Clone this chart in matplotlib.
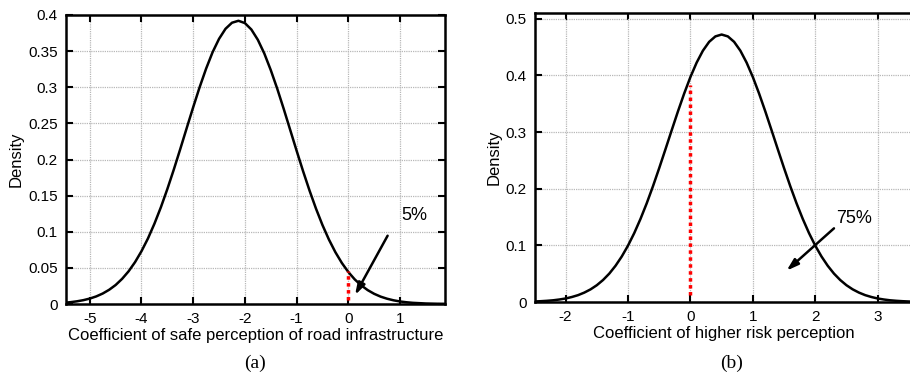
import matplotlib
matplotlib.use("Agg")
import matplotlib.pyplot as plt

plt.rcParams['font.family'] = ['Liberation Sans', 'DejaVu Sans']
plt.rcParams['axes.unicode_minus'] = False

# Panel (a): density curve
xa = [-5.5, -5.375, -5.25, -5.125, -5.0, -4.875, -4.75, -4.625, -4.5, -4.375, -4.25,
      -4.125, -4.0, -3.875, -3.75, -3.625, -3.5, -3.375, -3.25, -3.125, -3.0, -2.875,
      -2.75, -2.625, -2.5, -2.375, -2.25, -2.125, -2.0, -1.875, -1.75, -1.625, -1.5,
      -1.375, -1.25, -1.125, -1.0, -0.875, -0.75, -0.625, -0.5, -0.375, -0.25, -0.125,
      0.0, 0.125, 0.25, 0.375, 0.5, 0.625, 0.75, 0.875, 1.0, 1.125, 1.25, 1.5, 1.75, 2.0]
ya = [0.0017, 0.0025, 0.0037, 0.0053, 0.0075, 0.0105, 0.0145, 0.0197, 0.0263, 0.0348,
      0.0452, 0.0579, 0.0731, 0.0907, 0.1111, 0.1339, 0.1591, 0.1861, 0.2145, 0.2436,
      0.2724, 0.3002, 0.3258, 0.3485, 0.3670, 0.3809, 0.3893, 0.3920, 0.3888, 0.3799,
      0.3657, 0.3468, 0.3238, 0.2981, 0.2702, 0.2412, 0.2122, 0.1839, 0.1570, 0.1320,
      0.1093, 0.0892, 0.0717, 0.0568, 0.0443, 0.0340, 0.0258, 0.0192, 0.0141, 0.0102,
      0.0073, 0.0051, 0.0035, 0.0024, 0.0016, 0.0007, 0.0003, 0.0001]
a_xticks = [-5, -4, -3, -2, -1, 0, 1]
a_yticks = [0, 0.05, 0.1, 0.15, 0.2, 0.25, 0.3, 0.35, 0.4]
a_yticklabels = ['0', '0.05', '0.1', '0.15', '0.2', '0.25', '0.3', '0.35', '0.4']
a_red = [0.005, 0.045]
a_label = "5%"

# Panel (b)
xb = [-2.5, -2.4, -2.3, -2.2, -2.1, -2.0, -1.9, -1.8, -1.7, -1.6, -1.5, -1.4, -1.3,
      -1.2, -1.1, -1.0, -0.9, -0.8, -0.7, -0.6, -0.5, -0.4, -0.3, -0.2, -0.1, 0.0,
      0.1, 0.2, 0.3, 0.4, 0.5, 0.6, 0.7, 0.8, 0.9, 1.0, 1.1, 1.2, 1.3, 1.4, 1.5, 1.6,
      1.7, 1.8, 1.9, 2.0, 2.1, 2.2, 2.3, 2.4, 2.5, 2.6, 2.7, 2.8, 2.9, 3.0, 3.1, 3.2,
      3.3, 3.4, 3.5]
yb = [0.0009, 0.0014, 0.0021, 0.0030, 0.0044, 0.0062, 0.0088, 0.0121, 0.0166, 0.0223,
      0.0296, 0.0388, 0.0501, 0.0639, 0.0803, 0.0995, 0.1216, 0.1466, 0.1742, 0.2043,
      0.2363, 0.2695, 0.3031, 0.3363, 0.3679, 0.3970, 0.4225, 0.4435, 0.4591, 0.4687,
      0.4720,
      0.4687, 0.4591, 0.4435, 0.4225, 0.3970, 0.3679, 0.3363, 0.3031, 0.2695, 0.2363,
      0.2043, 0.1742, 0.1466, 0.1216, 0.0995, 0.0803, 0.0639, 0.0501, 0.0388, 0.0296,
      0.0223, 0.0166, 0.0121, 0.0088, 0.0062, 0.0044, 0.0030, 0.0021, 0.0014, 0.0009]
b_xticks = [-2, -1, 0, 1, 2, 3]
b_yticks = [0, 0.1, 0.2, 0.3, 0.4, 0.5]
b_yticklabels = ['0', '0.1', '0.2', '0.3', '0.4', '0.5']
b_red = [0.012, 0.383]
b_label = "75%"

W, H = 910, 378
fig = plt.figure(figsize=(W / 100, H / 100), dpi=100)

def style(ax, right_spine=True):
    for s in ax.spines.values():
        s.set_linewidth(1.8)
    ax.tick_params(direction='in', length=5, width=1.5, top=True, right=right_spine,
                   labelsize=11, pad=6)
    ax.grid(True, color='#b8b8b8', linestyle=(0, (1, 0.8)), linewidth=0.9)
    ax.set_axisbelow(True)

arrow_style = dict(arrowstyle='-|>,head_length=0.7,head_width=0.22', color='black', lw=1.8,
                   shrinkA=0, shrinkB=0)

axa = fig.add_axes([66 / W, 1 - 304 / H, (445 - 66) / W, (304 - 15) / H])
axa.plot(xa, ya, color='black', lw=1.8)
axa.plot([0, 0], a_red, color='red', lw=2.5, linestyle=(0, (1, 1)))
axa.set_xlim(-5.46, 1.87)
axa.set_ylim(0, 0.4)
axa.set_xticks(a_xticks)
axa.set_yticks(a_yticks)
axa.set_yticklabels(a_yticklabels)
style(axa)
axa.set_xlabel("Coefficient of safe perception of road infrastructure", fontsize=12, labelpad=1)
axa.set_ylabel("Density", fontsize=12, labelpad=3)
axa.annotate("", xy=(0.13, 0.0125), xytext=(0.76, 0.0945), arrowprops=arrow_style)
axa.text(1.27, 0.122, a_label, fontsize=13, ha='center', va='center')

axb = fig.add_axes([535 / W, 1 - 302 / H, (912 - 535) / W, (302 - 13) / H])
axb.plot(xb, yb, color='black', lw=1.8)
axb.plot([0, 0], b_red, color='red', lw=2.5, linestyle=(0, (1, 1)))
axb.set_xlim(-2.49, 3.55)
axb.set_ylim(0, 0.51)
axb.set_xticks(b_xticks)
axb.set_yticks(b_yticks)
axb.set_yticklabels(b_yticklabels)
style(axb, right_spine=False)
axb.set_xlabel("Coefficient of higher risk perception", fontsize=12, labelpad=1)
axb.set_ylabel("Density", fontsize=12, labelpad=3)
axb.annotate("", xy=(1.54, 0.0553), xytext=(2.3, 0.130), arrowprops=arrow_style)
axb.text(2.62, 0.148, b_label, fontsize=13, ha='center', va='center')

fig.text(255 / W, 1 - 363 / H, "(a)", fontsize=14, ha='center', va='center',
         family=['Liberation Serif', 'DejaVu Serif'])
fig.text(732 / W, 1 - 363 / H, "(b)", fontsize=14, ha='center', va='center',
         family=['Liberation Serif', 'DejaVu Serif'])

fig.savefig("out.png", dpi=100)
